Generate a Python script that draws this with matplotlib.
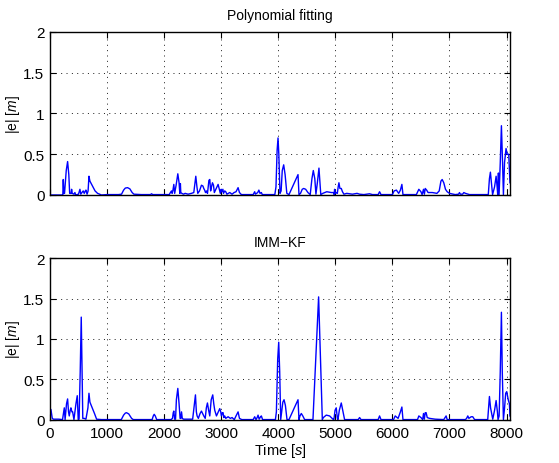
import matplotlib
matplotlib.use("Agg")
import matplotlib.pyplot as plt
from matplotlib.ticker import FixedLocator, FixedFormatter

plt.rcParams['font.family'] = ['Liberation Sans', 'DejaVu Sans']
plt.rcParams['mathtext.fontset'] = 'custom'
plt.rcParams['mathtext.rm'] = 'Liberation Sans'
plt.rcParams['mathtext.it'] = 'Liberation Sans:italic'

# Position error of the polynomial-fitting estimator: (time [s], |e| [m])
t_poly = [0, 225, 233, 243, 255, 285, 309, 330, 345, 370, 379, 390, 420, 437, 450,
          500, 525, 540, 570, 583, 600, 620, 630, 650, 668, 683, 700, 730, 760, 790,
          834, 870, 900, 1000, 1200, 1254, 1290, 1320, 1360, 1400, 1440, 1470, 1600,
          1760, 1780, 1800, 2090, 2110, 2129, 2140, 2155, 2170, 2185, 2210, 2240,
          2262, 2275, 2285, 2292, 2310, 2340, 2368, 2420, 2479, 2520, 2540, 2555,
          2575, 2590, 2620, 2654, 2680, 2695, 2710, 2725, 2742, 2760, 2785, 2800,
          2815, 2830, 2847, 2865, 2880, 2900, 2946, 2970, 2985, 3000, 3010, 3030,
          3040, 3062, 3080, 3100, 3150, 3190, 3226, 3260, 3296, 3320, 3354, 3500,
          3560, 3587, 3600, 3640, 3660, 3680, 3704, 3720, 3940, 3960, 3980, 3996,
          4010, 4030, 4050, 4070, 4095, 4120, 4150, 4188, 4346, 4363, 4390, 4420,
          4445, 4480, 4520, 4560, 4590, 4614, 4640, 4660, 4685, 4713, 4730, 4745,
          4780, 4850, 4930, 4970, 4980, 4987, 5000, 5020, 5035, 5050, 5063, 5080,
          5104, 5125, 5150, 5200, 5300, 5380, 5425, 5500, 5600, 5650, 5750, 5775,
          5800, 6000, 6030, 6070, 6110, 6140, 6166, 6185, 6420, 6463, 6500, 6520,
          6545, 6560, 6575, 6600, 6625, 6700, 6780, 6820, 6850, 6872, 6900, 6930,
          6960, 7000, 7100, 7160, 7175, 7190, 7230, 7251, 7280, 7350, 7680, 7700,
          7717, 7735, 7755, 7790, 7817, 7835, 7845, 7857, 7869, 7890, 7910, 7930,
          7945, 7965, 7991, 8010, 8038, 8056, 8060]
e_poly = [0, 0, 0.19, 0.02, 0.02, 0.30, 0.41, 0.25, 0.02, 0.02, 0.07, 0.02, 0.01, 0.03, 0.0,
          0.01, 0.07, 0.01, 0.04, 0.05, 0.02, 0.05, 0.06, 0.01, 0.05, 0.23, 0.17, 0.13, 0.09, 0.05,
          0.02, 0.01, 0, 0.005, 0.005, 0.01, 0.06, 0.085, 0.09, 0.075, 0.03, 0.01, 0.005,
          0.005, 0.015, 0.005, 0.005, 0.03, 0.05, 0.02, 0.06, 0.13, 0.02, 0.12, 0.26,
          0.15, 0.02, 0.14, 0.03, 0.02, 0.01, 0.02, 0.01, 0.02, 0.03, 0.15, 0.23,
          0.10, 0.02, 0.05, 0.12, 0.11, 0.08, 0.06, 0.03, 0.05, 0.02, 0.18, 0.19,
          0.05, 0.10, 0.15, 0.12, 0.03, 0.06, 0.13, 0.06, 0.02, 0.07, 0.04, 0.07,
          0.02, 0.05, 0.04, 0.01, 0.03, 0.01, 0.03, 0.04, 0.09, 0.03, 0.005, 0.005,
          0.005, 0.04, 0.01, 0.03, 0.06, 0.02, 0.03, 0.005, 0.005, 0.10, 0.55, 0.70,
          0.50, 0.02, 0.05, 0.30, 0.37, 0.25, 0.02, 0.005, 0.25, 0.005, 0.02, 0.07,
          0.08, 0.07, 0.03, 0.005, 0.20, 0.30, 0.20, 0.01, 0.15, 0.33, 0.15, 0.005,
          0.02, 0.04, 0.03, 0.03, 0.005, 0.07, 0.02, 0.03, 0.02, 0.10, 0.15, 0.08,
          0.08, 0.04, 0.01, 0.02, 0.01, 0.02, 0.01, 0.005, 0.015, 0.005, 0.005, 0.04,
          0.005, 0.005, 0.05, 0.06, 0.02, 0.06, 0.13, 0.005, 0.005, 0.07, 0.04, 0.005,
          0.07, 0.01, 0.08, 0.06, 0.03, 0.03, 0.02, 0.05, 0.17, 0.19, 0.15, 0.07,
          0.04, 0.02, 0.005, 0.01, 0.03, 0.01, 0.01, 0.03, 0.02, 0.005, 0.005, 0.20,
          0.28, 0.15, 0.005, 0.10, 0.23, 0.10, 0.005, 0.27, 0.005, 0.40, 0.85, 0.40,
          0.005, 0.40, 0.57, 0.50, 0.50, 0.20, 0.15]

# Position error of the IMM Kalman filter: (time [s], |e| [m])
t_imm = [0, 17, 40, 60, 150, 220, 240, 251, 265, 290, 309, 325, 338, 355, 367, 385,
         397, 420, 455, 478, 495, 510, 530, 548, 566, 575, 600, 630, 665, 683, 700,
         740, 780, 817, 900, 1250, 1290, 1320, 1341, 1380, 1430, 1460, 1790, 1810,
         1826, 1845, 1870, 2120, 2147, 2160, 2170, 2185, 2200, 2215, 2240, 2262,
         2280, 2292, 2305, 2318, 2340, 2500, 2530, 2549, 2565, 2578, 2600, 2630,
         2654, 2680, 2695, 2720, 2740, 2759, 2780, 2800, 2825, 2852, 2870, 2887,
         2917, 2950, 2975, 2992, 3004, 3020, 3033, 3045, 3062, 3080, 3121, 3160,
         3191, 3230, 3260, 3296, 3320, 3360, 3560, 3587, 3610, 3630, 3646, 3665,
         3690, 3704, 3725, 3950, 3967, 3990, 4008, 4025, 4043, 4060, 4080, 4101,
         4125, 4153, 4188, 4346, 4363, 4380, 4404, 4430, 4462, 4608, 4707, 4772,
         4790, 4841, 4900, 4958, 4975, 4995, 5016, 5035, 5046, 5070, 5104, 5130,
         5162, 5400, 5425, 5450, 5750, 5775, 5800, 6020, 6049, 6100, 6140, 6166,
         6185, 6440, 6463, 6500, 6530, 6545, 6560, 6575, 6591, 6610, 6650, 6750,
         6900, 6941, 6960, 7280, 7300, 7321, 7340, 7380, 7408, 7440, 7670, 7690,
         7700, 7720, 7758, 7790, 7817, 7840, 7851, 7870, 7890, 7910, 7925, 7945,
         7965, 7985, 8003, 8030, 8050, 8060]
e_imm = [0.05, 0.13, 0.02, 0.01, 0.01, 0.005, 0.10, 0.15, 0.005, 0.20, 0.26, 0.10, 0.05, 0.12, 0.15, 0.10,
         0.10, 0.005, 0.20, 0.30, 0.005, 0.01, 0.60, 1.27, 0.40, 0.02, 0.02, 0.01, 0.15, 0.33, 0.22,
         0.15, 0.08, 0.01, 0.005, 0.005, 0.06, 0.085, 0.09, 0.075, 0.02, 0.005, 0.005, 0.05,
         0.07, 0.05, 0.005, 0.005, 0.02, 0.09, 0.11, 0.01, 0.01, 0.25, 0.39, 0.20,
         0.02, 0.02, 0.10, 0.02, 0.01, 0.01, 0.20, 0.31, 0.10, 0.05, 0.02, 0.08,
         0.11, 0.07, 0.05, 0.02, 0.15, 0.21, 0.12, 0.05, 0.25, 0.31, 0.20, 0.12,
         0.05, 0.10, 0.14, 0.10, 0.05, 0.09, 0.09, 0.03, 0.05, 0.02, 0.04, 0.02,
         0.03, 0.005, 0.05, 0.10, 0.02, 0.005, 0.005, 0.04, 0.005, 0.03, 0.06, 0.01,
         0.04, 0.05, 0.005, 0.005, 0.10, 0.75, 0.96, 0.60, 0.005, 0.10, 0.22, 0.25,
         0.18, 0.005, 0.005, 0.25, 0.005, 0.05, 0.08, 0.05, 0.005, 0.005, 1.52, 0.005,
         0.03, 0.06, 0.05, 0.01, 0.005, 0.12, 0.15, 0.02, 0.005, 0.12, 0.21, 0.12,
         0.005, 0.005, 0.03, 0.005, 0.005, 0.05, 0.005, 0.005, 0.05, 0.02, 0.10, 0.16,
         0.005, 0.005, 0.05, 0.03, 0.005, 0.08, 0.01, 0.09, 0.09, 0.03, 0.02, 0.01,
         0.005, 0.05, 0.005, 0.005, 0.02, 0.05, 0.02, 0.04, 0.04, 0.005, 0.005, 0.20,
         0.29, 0.15, 0.01, 0.12, 0.24, 0.10, 0.005, 0.05, 0.60, 1.33, 0.60, 0.005,
         0.15, 0.33, 0.35, 0.25, 0.20, 0.05]

titles = ["Polynomial fitting", "IMM\u2212KF"]
x_ticks = [0, 1000, 2000, 3000, 4000, 5000, 6000, 7000, 8000]
y_ticks = [0, 0.5, 1, 1.5, 2]
y_tick_labels = ["0", "0.5", "1", "1.5", "2"]

fig = plt.figure(figsize=(5.59, 4.64), dpi=100)
ax_top = fig.add_axes([0.0894, 0.5776, 0.8229, 0.3513])
ax_bot = fig.add_axes([0.0894, 0.0927, 0.8229, 0.3491])

series = [(t_poly, e_poly), (t_imm, e_imm)]
for ax, (t, e), title in zip([ax_top, ax_bot], series, titles):
    ax.plot(t, e, color='#0000ff', lw=1.0, solid_joinstyle='round')
    ax.set_xlim(0, 8060)
    ax.set_ylim(0, 2)
    ax.xaxis.set_major_locator(FixedLocator(x_ticks))
    ax.yaxis.set_major_locator(FixedLocator(y_ticks))
    ax.yaxis.set_major_formatter(FixedFormatter(y_tick_labels))
    ax.grid(True, color='0.1', linestyle=(0, (1, 4.5)), linewidth=0.7)
    ax.tick_params(direction='in', length=4, width=0.8, top=True, right=True,
                   labelsize=11, colors='black', pad=4)
    for s in ax.spines.values():
        s.set_linewidth(1.0)
    ax.set_title(title, fontsize=10, pad=9)
    ax.set_ylabel(r"|e| $\mathit{[m]}$", fontsize=10, va='center')
    ax.yaxis.set_label_coords(-0.081, 0.5)

ax_top.tick_params(labelbottom=False)
ax_bot.set_xlabel(r"Time $\mathit{[s]}$", fontsize=10.5, labelpad=1)

fig.savefig("out.png", dpi=100)
